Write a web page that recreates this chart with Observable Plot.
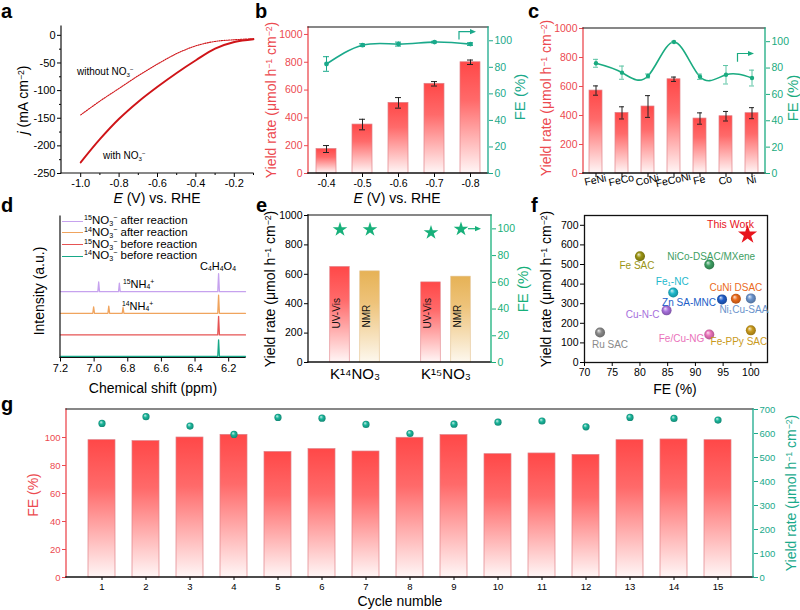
<!DOCTYPE html>
<html><head><meta charset="utf-8">
<script src="https://cdn.jsdelivr.net/npm/d3@7"></script>
<script src="https://cdn.jsdelivr.net/npm/@observablehq/plot@0.6"></script>
<style>
body{margin:0;background:#fff;}
#fig{position:relative;width:800px;height:610px;overflow:hidden;background:#fff;font-family:"Liberation Sans",Arial,Helvetica,sans-serif;}
.lbl{position:absolute;white-space:nowrap;line-height:1;}
sup{font-size:0.62em;vertical-align:0.5em;line-height:0;}
sub{font-size:0.62em;vertical-align:-0.25em;line-height:0;}
.leg{position:absolute;display:flex;align-items:center;font-size:11.5px;white-space:nowrap;line-height:1;}
.leg span.sw{display:inline-block;width:21px;height:0;border-top:1.5px solid;margin-right:1px;}
</style></head><body><div id="fig"></div>
<script>
// ---------------- data ----------------
// a: LSV
const aPotential = [-1.0,-0.9,-0.8,-0.7,-0.6,-0.5,-0.4,-0.3,-0.2,-0.1];
const aWithNO3 = [-230,-188,-151,-120,-93,-68,-45,-24,-12,-7];
const aWithoutNO3 = [-144,-119,-96,-73,-52,-33,-19,-11,-8,-6];
// b: potential dependence
const bPotential = ["-0.4","-0.5","-0.6","-0.7","-0.8"];
const bYield = [176,352,508,645,800];
const bYieldErr = [25,38,38,16,16];
const bFE = [82.5,96.7,97.5,99,97.5];
const bFEErr = [5.5,1,1.5,0.6,1];
// c: catalysts
const cCatalyst = ["FeNi","FeCo","CoNi","FeCoNi","Fe","Co","Ni"];
const cYield = [572,418,462,650,379,395,416];
const cYieldErr = [32,42,75,15,39,33,38];
const cFE = [83.6,76.5,74,99.8,73.4,74.9,72.4];
const cFEErr = [3,5,1.5,0.5,2,7,6];
// d: NMR
const dSeries = ["15after","14after","15before","14before"];
const dOffset = [3,2,1,0];
const dPeakShift = [[6.973,6.85,6.26],[7.003,6.913,6.828,6.26],[6.26],[6.26]];
const dPeakHeight = [[0.45,0.39,0.83],[0.3,0.33,0.28,0.84],[0.86],[0.77]];
const dTicks = [7.2,7.0,6.8,6.6,6.4,6.2];
// e: isotope
const eGroup = ["K¹⁴NO₃","K¹⁵NO₃"];
const eMethod = ["UV-Vis","NMR"];
const eYield = [650,620,545,584];
const eFE = [99.5,99.5,97.2,99.8];
// f: comparison
const fName = ["Ru SAC","Fe SAC","NiCo-DSAC/MXene","Fe₁-NC","Cu-N-C","Zn SA-MNC","CuNi DSAC","Ni₁Cu-SAA","Fe/Cu-NG","Fe-PPy SAC"];
const fFE = [72.8,80.0,92.5,86.0,84.8,94.8,97.3,100.0,92.5,100.0];
const fYield = [153,542,500,357,266,322,325,327,143,164];
const thisWorkFE = [99.4];
const thisWorkYield = [652];
// g: cycling
const gCycle = ["1","2","3","4","5","6","7","8","9","10","11","12","13","14","15"];
const gFE = [98.1,97.4,100,101.9,89.7,91.7,90.0,99.8,101.7,88.1,88.6,87.6,98.1,98.6,98.1];
const gYield = [642,670,631,596,667,664,638,600,639,647,652,628,667,663,656];

// ---------------- styles ----------------
const FONT = '"Liberation Sans", Arial, Helvetica, sans-serif';
const RED = "#ec4a50", DARKRED = "#cf1418", TEAL = "#1aa98b", BLACK = "#111";
const BARSTROKE = "#e08088";
const fColor = {"Ru SAC":"#8a8a8a","Fe SAC":"#9a9414","NiCo-DSAC/MXene":"#3d9e62","Fe₁-NC":"#1db8cc","Cu-N-C":"#a770dc","Zn SA-MNC":"#215ec8","CuNi DSAC":"#ea6a1c","Ni₁Cu-SAA":"#6b94cc","Fe/Cu-NG":"#ea72ba","Fe-PPy SAC":"#c99a1c"};
const fLabel = {"Ru SAC":[10,12,"middle"],"Fe SAC":[-3,10,"middle"],"NiCo-DSAC/MXene":[2,-8,"middle"],"Fe₁-NC":[-1,-11,"middle"],"Cu-N-C":[-7,4,"end"],"Zn SA-MNC":[-6,3,"end"],"CuNi DSAC":[0,-11,"middle"],"Ni₁Cu-SAA":[-7,11,"middle"],"Fe/Cu-NG":[-5,4,"end"],"Fe-PPy SAC":[-12,11,"middle"]};
const dColor = {"15after":"#c6a2ee","14after":"#f0a45e","15before":"#e65454","14before":"#17a888"};
const plain = d => String(d);

const fig = document.getElementById("fig");
const SVGNS = "http://www.w3.org/2000/svg";

// gradients
const defs = d3.select(fig).append("svg").attr("width",0).attr("height",0).style("position","absolute").append("defs");
function linGrad(id, stops){
  const g = defs.append("linearGradient").attr("id",id).attr("x1",0).attr("y1",0).attr("x2",0).attr("y2",1);
  stops.forEach(([o,c])=>g.append("stop").attr("offset",o).attr("stop-color",c));
}
linGrad("gRed",[["0%","#ff4848"],["35%","#ff6a6a"],["100%","#fff6f6"]]);
linGrad("gGold",[["0%","#e6b256"],["35%","#eec37a"],["100%","#fdf8ee"]]);
function sphere(id, color){
  const g = defs.append("radialGradient").attr("id",id).attr("cx","50%").attr("cy","50%").attr("r","55%").attr("fx","35%").attr("fy","30%");
  g.append("stop").attr("offset","0%").attr("stop-color", d3.interpolateRgb(color,"#fff")(0.8));
  g.append("stop").attr("offset","45%").attr("stop-color", color);
  g.append("stop").attr("offset","100%").attr("stop-color", d3.color(color).darker(0.9).formatHex());
}
const sphereId = {};
Object.entries(fColor).forEach(([k,c],i)=>{ sphereId[k] = "sph"+i; sphere("sph"+i, c); });
sphere("sphTeal", "#19b59a");

// helpers
function edge(side, color, w=1.2){
  return (index, scales, values, dim) => {
    const {width, height, marginLeft:l, marginRight:r, marginTop:t, marginBottom:b} = dim;
    const x0=l, x1=width-r, y0=t, y1=height-b;
    const c = {left:[x0,y0,x0,y1], right:[x1,y0,x1,y1], top:[x0,y0,x1,y0], bottom:[x0,y1,x1,y1]}[side];
    const ln = document.createElementNS(SVGNS,"line");
    ln.setAttribute("x1",c[0]); ln.setAttribute("y1",c[1]); ln.setAttribute("x2",c[2]); ln.setAttribute("y2",c[3]);
    ln.setAttribute("stroke",color); ln.setAttribute("stroke-width",w); ln.setAttribute("stroke-linecap","square");
    return ln;
  };
}
function panel(F, m, opts){
  const p = Plot.plot({
    width: F.x1-F.x0+m.l+m.r, height: F.y1-F.y0+m.t+m.b,
    marginLeft:m.l, marginRight:m.r, marginTop:m.t, marginBottom:m.b,
    style:{background:"transparent", fontFamily:FONT, fontSize:"10px", color:"#000", overflow:"visible"},
    ...opts
  });
  p.style.position="absolute"; p.style.left=(F.x0-m.l)+"px"; p.style.top=(F.y0-m.t)+"px";
  fig.appendChild(p);
  return p;
}
function txt(html, x, y, o={}){
  const d = document.createElement("div");
  d.className="lbl"; d.innerHTML=html;
  d.style.left=x+"px"; d.style.top=y+"px";
  d.style.fontSize=(o.size||14)+"px"; d.style.color=o.color||"#000";
  if (o.bold) d.style.fontWeight="bold";
  const a=o.anchor||"middle";
  const tx = a==="start"?"0":a==="end"?"-100%":"-50%";
  d.style.transform=`translate(${tx},-50%)`+(o.rot?" rotate(-90deg)":"");
  fig.appendChild(d);
}
const M = {t:4,r:4,b:26,l:34};
const M2 = {t:4,r:34,b:26,l:34};
const TS = 10.5; // tick font

// ---------------- a ----------------
const FA = {x0:61,x1:253,y0:26,y1:173};
const aRows = aPotential.map((e,i)=>({e, w:aWithNO3[i], wo:aWithoutNO3[i]}));
panel(FA, M, {
  x:{domain:[-1.1,-0.1]}, y:{domain:[-250,16]},
  marks:[
    Plot.line(aRows,{x:"e",y:"wo",stroke:DARKRED,strokeWidth:1.1,strokeDasharray:"1.3,1.1",curve:"catmull-rom"}),
    Plot.line(aRows,{x:"e",y:"w",stroke:DARKRED,strokeWidth:1.9,curve:"catmull-rom"}),
    Plot.axisX({ticks:[-1,-0.8,-0.6,-0.4,-0.2], tickFormat:d=>d.toFixed(1), label:null, tickSize:4, tickPadding:2, fontSize:11}),
    Plot.axisX({ticks:[-0.9,-0.7,-0.5,-0.3,-0.1], tickFormat:()=>"", label:null, tickSize:2}),
    Plot.axisY({ticks:[0,-50,-100,-150,-200,-250], tickFormat:plain, label:null, tickSize:4, tickPadding:2, fontSize:11}),
    Plot.axisY({ticks:[-25,-75,-125,-175,-225], tickFormat:()=>"", label:null, tickSize:2}),
    edge("left",BLACK,1.2), edge("bottom",BLACK,1.2)
  ]
});
txt('<i>j</i> (mA cm<sup>−2</sup>)', 23, 100, {rot:true, size:14});
txt('<i>E</i> (V) vs. RHE', 157, 198, {size:14});
txt('without NO<sub>3</sub><sup>−</sup>', 77, 72, {anchor:"start", size:10});
txt('with NO<sub>3</sub><sup>−</sup>', 103, 156, {anchor:"start", size:10});

// ---------------- b ----------------
const FB = {x0:308,x1:488,y0:27,y1:173};
const bRows = bPotential.map((p,i)=>({p, y:bYield[i], e:bYieldErr[i], fe:bFE[i], fee:bFEErr[i]}));
const xB = {type:"band", domain:bPotential, paddingInner:0.444, paddingOuter:0.222};
panel(FB, M2, {
  x:xB, y:{domain:[0,1050]},
  marks:[
    Plot.barY(bRows,{x:"p",y:"y",fill:"url(#gRed)",stroke:BARSTROKE,strokeWidth:0.7}),
    Plot.ruleX(bRows,{x:"p",y1:d=>d.y-d.e,y2:d=>d.y+d.e,stroke:"#222",strokeWidth:1}),
    Plot.tickY(bRows,{x:"p",y:d=>d.y-d.e,insetLeft:7,insetRight:7,stroke:"#222"}),
    Plot.tickY(bRows,{x:"p",y:d=>d.y+d.e,insetLeft:7,insetRight:7,stroke:"#222"}),
    Plot.axisY({ticks:[0,200,400,600,800,1000], tickFormat:plain, color:RED, label:null, tickSize:4, tickPadding:2, fontSize:TS}),
    Plot.axisX({label:null, tickSize:4, tickPadding:2, fontSize:TS}),
    edge("left",RED,1.3), edge("bottom",BLACK,1.5), edge("top",BLACK,1.2)
  ]
});
panel(FB, M2, {
  x:{...xB, axis:null}, y:{domain:[0,110], axis:null},
  marks:[
    Plot.line(bRows,{x:"p",y:"fe",stroke:TEAL,strokeWidth:1.6,curve:"natural"}),
    Plot.ruleX(bRows,{x:"p",y1:d=>d.fe-d.fee,y2:d=>d.fe+d.fee,stroke:TEAL,strokeWidth:1}),
    Plot.tickY(bRows,{x:"p",y:d=>d.fe-d.fee,insetLeft:7,insetRight:7,stroke:TEAL}),
    Plot.tickY(bRows,{x:"p",y:d=>d.fe+d.fee,insetLeft:7,insetRight:7,stroke:TEAL}),
    Plot.dot(bRows,{x:"p",y:"fe",r:2.4,fill:TEAL}),
    Plot.axisY({anchor:"right", ticks:[0,20,40,60,80,100], tickFormat:plain, color:TEAL, label:null, tickSize:4, tickPadding:2, fontSize:TS}),
    edge("right",TEAL,1.3)
  ]
});
txt('Yield rate (μmol h<sup>−1</sup> cm<sup>−2</sup>)', 271, 100, {rot:true, size:14, color:RED});
txt('FE (%)', 519, 97, {rot:true, size:15, color:TEAL});
txt('<i>E</i> (V) vs. RHE', 397, 198, {size:14});

// ---------------- c ----------------
const FC = {x0:583,x1:765,y0:28,y1:173};
const cRows = cCatalyst.map((c,i)=>({c, y:cYield[i], e:cYieldErr[i], fe:cFE[i], fee:cFEErr[i]}));
const xC = {type:"band", domain:cCatalyst, paddingInner:0.49, paddingOuter:0.245};
panel(FC, M2, {
  x:xC, y:{domain:[0,1000]},
  marks:[
    Plot.barY(cRows,{x:"c",y:"y",fill:"url(#gRed)",stroke:BARSTROKE,strokeWidth:0.7}),
    Plot.ruleX(cRows,{x:"c",y1:d=>d.y-d.e,y2:d=>d.y+d.e,stroke:"#222",strokeWidth:1}),
    Plot.tickY(cRows,{x:"c",y:d=>d.y-d.e,insetLeft:4,insetRight:4,stroke:"#222"}),
    Plot.tickY(cRows,{x:"c",y:d=>d.y+d.e,insetLeft:4,insetRight:4,stroke:"#222"}),
    Plot.axisY({ticks:[0,200,400,600,800,1000], tickFormat:plain, color:RED, label:null, tickSize:4, tickPadding:2, fontSize:TS}),
    Plot.axisX({label:null, tickSize:4, text:null}),
    Plot.text(cCatalyst,{x:d=>d, text:d=>d, frameAnchor:"bottom", dy:10, rotate:-12, fontSize:10.5, fill:"#000"}),
    edge("left",RED,1.3), edge("bottom",BLACK,1.5), edge("top",BLACK,1.2)
  ]
});
panel(FC, M2, {
  x:{...xC, axis:null}, y:{domain:[0,110], axis:null},
  marks:[
    Plot.line(cRows,{x:"c",y:"fe",stroke:"#1aab80",strokeWidth:1.6,curve:"natural"}),
    Plot.ruleX(cRows,{x:"c",y1:d=>d.fe-d.fee,y2:d=>d.fe+d.fee,stroke:"#5cc4a4",strokeWidth:1}),
    Plot.tickY(cRows,{x:"c",y:d=>d.fe-d.fee,insetLeft:4,insetRight:4,stroke:"#5cc4a4"}),
    Plot.tickY(cRows,{x:"c",y:d=>d.fe+d.fee,insetLeft:4,insetRight:4,stroke:"#5cc4a4"}),
    Plot.dot(cRows,{x:"c",y:"fe",r:2.2,fill:"#1aab80"}),
    Plot.axisY({anchor:"right", ticks:[0,20,40,60,80,100], tickFormat:plain, color:"#1aab80", label:null, tickSize:4, tickPadding:2, fontSize:TS}),
    edge("right","#1aab80",1.3)
  ]
});
txt('Yield rate (μmol h<sup>−1</sup> cm<sup>−2</sup>)', 546, 98, {rot:true, size:14, color:RED});
txt('FE (%)', 792, 98, {rot:true, size:15, color:"#1aab80"});

// ---------------- d ----------------
const FD = {x0:60,x1:245,y0:216,y1:357.5};
const dLines = [];
dSeries.forEach((s,k)=>{
  const off = dOffset[k];
  dLines.push({s, x:7.2, y:off});
  dPeakShift[k].forEach((p,j)=>{
    dLines.push({s, x:p+0.005, y:off});
    dLines.push({s, x:p, y:off+dPeakHeight[k][j]});
    dLines.push({s, x:p-0.005, y:off});
  });
  dLines.push({s, x:6.1, y:off});
});
panel(FD, M, {
  x:{domain:[7.2,6.1]}, y:{domain:[-0.07,6.48], axis:null},
  marks:[
    Plot.line(dLines,{x:"x",y:"y",z:"s",stroke:d=>dColor[d.s],strokeWidth:1.3}),
    Plot.axisX({ticks:dTicks, tickFormat:d=>d.toFixed(1), label:null, tickSize:4, tickPadding:2, fontSize:11}),
    edge("left",BLACK,1.2), edge("bottom",BLACK,1.2)
  ],
  color:{type:"identity"}
});
[["<sup>15</sup>NO<sub>3</sub><sup>−</sup> after reaction","15after",221],
 ["<sup>14</sup>NO<sub>3</sub><sup>−</sup> after reaction","14after",232.5],
 ["<sup>15</sup>NO<sub>3</sub><sup>−</sup> before reaction","15before",244.5],
 ["<sup>14</sup>NO<sub>3</sub><sup>−</sup> before reaction","14before",256]].forEach(([h,k,y])=>{
  const d=document.createElement("div"); d.className="leg";
  d.style.left="62px"; d.style.top=(y-6)+"px"; d.style.height="12px";
  d.innerHTML=`<span class="sw" style="border-color:${dColor[k]}"></span><span>${h}</span>`;
  fig.appendChild(d);
});
txt('C<sub>4</sub>H<sub>4</sub>O<sub>4</sub>', 218, 266, {size:11});
txt('<sup>15</sup>NH<sub>4</sub><sup>+</sup>', 123, 284, {anchor:"start", size:11});
txt('<sup>14</sup>NH<sub>4</sub><sup>+</sup>', 122, 306, {anchor:"start", size:11});
txt('Intensity (a.u.)', 39, 291, {rot:true, size:14});
txt('Chemical shift (ppm)', 153, 388, {size:14});

// ---------------- e ----------------
const FE_ = {x0:308,x1:491,y0:215,y1:362};
const eRows = eYield.map((y,i)=>({g:eGroup[Math.floor(i/2)], m:eMethod[i%2], y, fe:eFE[i]}));
const eBW = (FE_.x1-FE_.x0)/2, eIn = (eBW-20)/2, eD = 15;
const xE = {type:"band", domain:eGroup, padding:0};
const uv = eRows.filter(d=>d.m==="UV-Vis"), nmr = eRows.filter(d=>d.m==="NMR");
panel(FE_, M2, {
  x:xE, y:{domain:[0,1000]},
  marks:[
    Plot.barY(uv,{x:"g",y:"y",fill:"url(#gRed)",stroke:BARSTROKE,strokeWidth:0.6,insetLeft:eIn,insetRight:eIn,dx:-eD}),
    Plot.barY(nmr,{x:"g",y:"y",fill:"url(#gGold)",stroke:"#e2c08a",strokeWidth:0.6,insetLeft:eIn,insetRight:eIn,dx:eD}),
    Plot.text(uv,{x:"g",text:"m",frameAnchor:"bottom",dx:-eD,dy:-34,rotate:-90,textAnchor:"start",fontSize:10,fill:"#111"}),
    Plot.text(nmr,{x:"g",text:"m",frameAnchor:"bottom",dx:eD,dy:-35,rotate:-90,textAnchor:"start",fontSize:10,fill:"#111"}),
    Plot.axisY({ticks:[0,200,400,600,800,1000], tickFormat:plain, label:null, tickSize:4, tickPadding:2, fontSize:TS}),
    Plot.axisX({label:null, tickSize:0, fontSize:15, tickPadding:6}),
    edge("left",BLACK,1.3), edge("bottom",BLACK,1.5), edge("top",BLACK,1.2)
  ]
});
panel(FE_, M2, {
  x:{...xE, axis:null}, y:{domain:[0,110], axis:null},
  marks:[
    Plot.dot(uv,{x:"g",y:"fe",symbol:"star",r:4.6,fill:"#17b07a",dx:-eD}),
    Plot.dot(nmr,{x:"g",y:"fe",symbol:"star",r:4.6,fill:"#17b07a",dx:eD}),
    Plot.axisY({anchor:"right", ticks:[0,20,40,60,80,100], tickFormat:plain, color:"#17b07a", label:null, tickSize:4, tickPadding:2, fontSize:TS}),
    edge("right","#17b07a",1.3)
  ]
});
txt('Yield rate (μmol h<sup>−1</sup> cm<sup>−2</sup>)', 270, 289, {rot:true, size:14});
txt('FE (%)', 522, 289, {rot:true, size:15, color:"#17b07a"});

// ---------------- f ----------------
const FF = {x0:584,x1:767,y0:215,y1:362};
const fRows = fName.map((n,i)=>({n, x:fFE[i], y:fYield[i]}));
panel(FF, M, {
  x:{domain:[70,103]}, y:{domain:[0,750]}, color:{type:"identity"},
  marks:[
    Plot.frame({stroke:BLACK, strokeWidth:1.3}),
    Plot.axisX({ticks:[70,75,80,85,90,95,100], tickFormat:plain, label:null, tickSize:4, tickPadding:2, fontSize:TS}),
    Plot.axisY({ticks:[0,100,200,300,400,500,600,700], tickFormat:plain, label:null, tickSize:4, tickPadding:2, fontSize:TS}),
    Plot.dot(fRows,{x:"x",y:"y",r:5,fill:d=>`url(#${sphereId[d.n]})`}),
    ...fRows.map(d=>Plot.text([d],{x:"x",y:"y",text:"n",fill:fColor[d.n],fontSize:10,dx:fLabel[d.n][0],dy:fLabel[d.n][1],textAnchor:fLabel[d.n][2]})),
    Plot.dot(thisWorkFE.map((x,i)=>({x, y:thisWorkYield[i]})),{x:"x",y:"y",symbol:"star",r:6,fill:"#e8141c"}),
    Plot.text(thisWorkFE.map((x,i)=>({x, y:thisWorkYield[i]})),{x:"x",y:"y",text:()=>"This Work",fill:"#e8141c",fontSize:10.5,dx:-17,dy:-10})
  ]
});
txt('Yield rate (μmol h<sup>−1</sup> cm<sup>−2</sup>)', 546, 289, {rot:true, size:14});
txt('FE (%)', 675, 389, {size:14});

// ---------------- g ----------------
const FG = {x0:66,x1:753,y0:409,y1:577};
const gRows = gCycle.map((c,i)=>({c, fe:gFE[i], y:gYield[i]}));
const xG = {type:"band", domain:gCycle, paddingInner:0.388, paddingOuter:0.48};
panel(FG, M2, {
  x:xG, y:{domain:[0,120]},
  marks:[
    Plot.barY(gRows,{x:"c",y:"fe",fill:"url(#gRed)",stroke:BARSTROKE,strokeWidth:0.7}),
    Plot.axisY({ticks:[0,20,40,60,80,100], tickFormat:plain, color:RED, label:null, tickSize:4, tickPadding:2, fontSize:9.5}),
    Plot.axisX({label:null, tickSize:3, tickPadding:3, fontSize:9.5}),
    edge("left",RED,1.3), edge("bottom",BLACK,1.5), edge("top",BLACK,1.2)
  ]
});
panel(FG, M2, {
  x:{...xG, axis:null}, y:{domain:[0,700], axis:null},
  marks:[
    Plot.dot(gRows,{x:"c",y:"y",r:3.6,fill:"url(#sphTeal)"}),
    Plot.axisY({anchor:"right", ticks:[0,100,200,300,400,500,600,700], tickFormat:plain, color:TEAL, label:null, tickSize:4, tickPadding:2, fontSize:9.5}),
    edge("right",TEAL,1.3)
  ]
});
txt('FE (%)', 33, 495, {rot:true, size:14, color:RED});
txt('Yield rate (μmol h<sup>−1</sup> cm<sup>−2</sup>)', 791, 493, {rot:true, size:14, color:TEAL});
txt('Cycle numble', 400, 601, {size:14});

// ---------------- panel letters & arrows ----------------
[["a",1,11],["b",255,11],["c",528,11],["d",1,205],["e",256,205],["f",531,205],["g",1,404]].forEach(([l,x,y])=>txt(l,x,y,{anchor:"start",size:20,bold:true}));
const ov = d3.select(fig).append("svg").attr("width",800).attr("height",610).style("position","absolute").style("left","0").style("top","0").style("pointer-events","none");
function arrow(pts, color){
  ov.append("path").attr("d", d3.line()(pts)).attr("fill","none").attr("stroke",color).attr("stroke-width",1.2);
  const [x,y]=pts[pts.length-1];
  ov.append("path").attr("d",`M${x+3},${y}L${x-3},${y-2.6}L${x-3},${y+2.6}Z`).attr("fill",color);
}
arrow([[459,39.5],[459,31.7],[473,31.7]], TEAL);
arrow([[737.5,61.7],[737.5,53.5],[751,53.5]], "#1aab80");
arrow([[468,228.7],[478,228.7]], "#17b07a");
</script></body></html>
